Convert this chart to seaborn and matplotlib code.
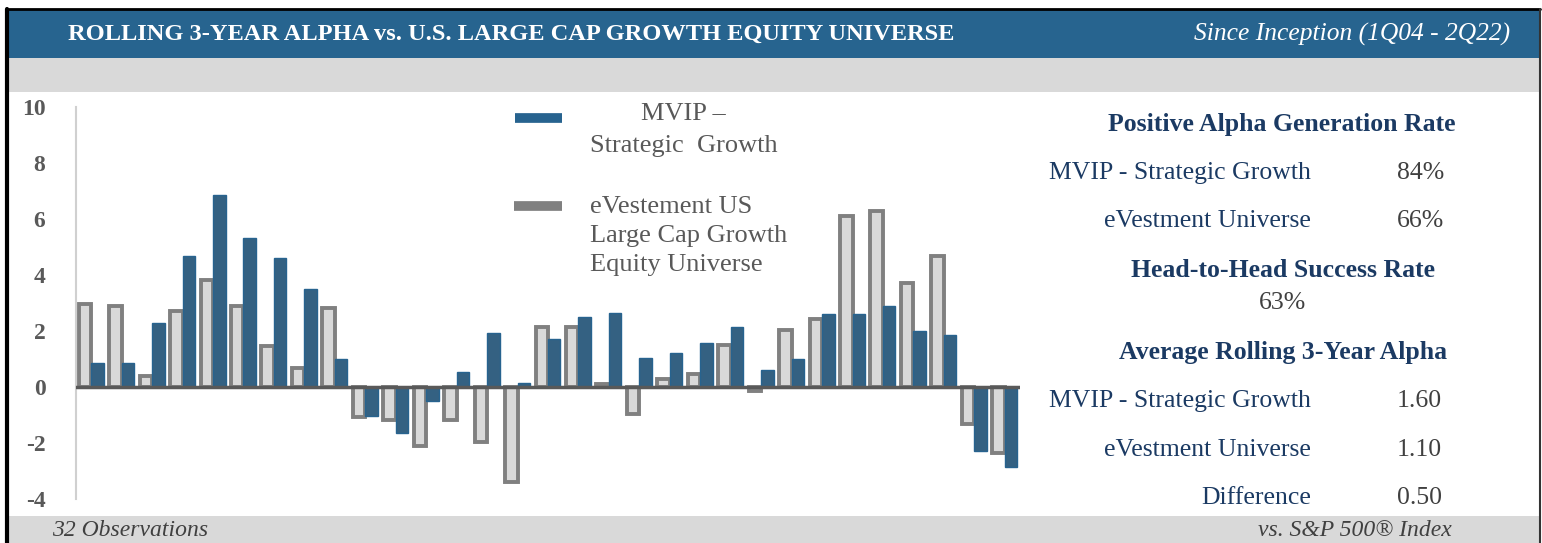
import numpy as np
import pandas as pd
import seaborn as sns
import matplotlib.pyplot as plt
from matplotlib.patches import Rectangle
from matplotlib.lines import Line2D

universe_alpha = [2.97, 2.88, 0.39, 2.73, 3.83, 2.91, 1.46, 0.69, 2.82, -1.08,
                  -1.19, -2.09, -1.19, -1.97, -3.39, 2.14, 2.14, 0.10, -0.96, 0.30,
                  0.45, 1.51, -0.15, 2.03, 2.43, 6.09, 6.30, 3.71, 4.69, -1.31, -2.37]
mvip_alpha = [0.84, 0.87, 2.29, 4.69, 6.86, 5.31, 4.60, 3.50, 1.01, -1.04,
              -1.66, -0.51, 0.55, 1.93, 0.13, 1.70, 2.49, 2.64, 1.03, 1.22,
              1.58, 2.15, 0.60, 0.99, 2.61, 2.59, 2.91, 1.99, 1.86, -2.30, -2.85]
series_names = ["eVestment Universe", "MVIP - Strategic Growth"]
y_ticks = [-4, -2, 0, 2, 4, 6, 8, 10]

stat_labels = ["MVIP - Strategic Growth", "eVestment Universe"]
positive_rate = ["84%", "66%"]
head_to_head = "63%"
avg_labels = ["MVIP - Strategic Growth", "eVestment Universe", "Difference"]
avg_values = ["1.60", "1.10", "0.50"]

BLUE = "#27638f"
GRAY_EDGE = "#808080"
GRAY_FILL = "#d9d9d9"
NAVY = "#1b3a63"
TXT = "#404040"
W, H = 1542, 543

n = len(mvip_alpha)
df = pd.DataFrame({
    "obs": list(range(n)) * 2,
    "alpha": universe_alpha + mvip_alpha,
    "series": [series_names[0]] * n + [series_names[1]] * n,
})

sns.set_style("white")
plt.rcParams["font.family"] = ["Liberation Serif", "DejaVu Serif"]

fig = plt.figure(figsize=(W / 100, H / 100), dpi=100)


def fx(px):
    return px / W


def fy(py):
    return 1 - py / H


# frame, header and bands
fig.add_artist(Rectangle((fx(7), fy(58)), fx(1533), 48 / H, transform=fig.transFigure,
                         facecolor="#27648f", edgecolor="none", zorder=1))
fig.add_artist(Rectangle((fx(7), fy(92)), fx(1533), 34 / H, transform=fig.transFigure,
                         facecolor=GRAY_FILL, edgecolor="none", zorder=1))
fig.add_artist(Rectangle((fx(7), fy(543)), fx(1533), 27 / H, transform=fig.transFigure,
                         facecolor=GRAY_FILL, edgecolor="none", zorder=1))
fig.add_artist(Line2D([fx(7), fx(7)], [fy(543), fy(9)], transform=fig.transFigure,
                      color="black", lw=3, zorder=2))
fig.add_artist(Line2D([fx(7), fx(1540)], [fy(9), fy(9)], transform=fig.transFigure,
                      color="black", lw=2, zorder=2))
fig.add_artist(Line2D([fx(1540), fx(1540)], [fy(543), fy(9)], transform=fig.transFigure,
                      color="#333333", lw=1.5, zorder=2))

fig.text(fx(68), fy(34), "ROLLING 3-YEAR ALPHA vs. U.S. LARGE CAP GROWTH EQUITY UNIVERSE",
         color="white", fontsize=17.6, fontweight="bold", va="center", ha="left", zorder=3)
fig.text(fx(1510), fy(34), "Since Inception (1Q04 - 2Q22)", color="white", fontsize=18.4,
         style="italic", va="center", ha="right", zorder=3)
fig.text(fx(52), fy(531), "32 Observations", color=TXT, fontsize=17, style="italic",
         va="center", ha="left", zorder=3)
fig.text(fx(1452), fy(531), "vs. S&P 500\u00ae Index", color=TXT, fontsize=17, style="italic",
         va="center", ha="right", zorder=3)

# bar chart
ax = fig.add_axes([fx(76), fy(499), fx(1020) - fx(76), fy(107) - fy(499)])
ax.set_facecolor("none")
sns.barplot(data=df, x="obs", y="alpha", hue="series", hue_order=series_names,
            palette=[GRAY_FILL, BLUE], width=0.82, legend=False, ax=ax, zorder=2)

for p in ax.containers[0]:
    p.set_edgecolor(GRAY_EDGE)
    p.set_linewidth(2.8)
for p in ax.containers[1]:
    p.set_edgecolor(BLUE)
    p.set_linewidth(1)

ax.axhline(0, color="#595959", lw=2.5, zorder=3)
ax.set_ylim(-4, 10)
ax.set_xlim(-0.5, n - 0.5)
ax.set_yticks(y_ticks)
ax.set_yticklabels([str(t) for t in y_ticks], fontsize=17, fontweight="bold", color="#595959")
ax.tick_params(axis="y", length=0, pad=22)
ax.set_xticks([])
ax.set_xlabel("")
ax.set_ylabel("")
for s in ["top", "right", "bottom"]:
    ax.spines[s].set_visible(False)
ax.spines["left"].set_color("#d0d0d0")
ax.spines["left"].set_linewidth(1.5)

# legend drawn by hand
LEG = 19
fig.add_artist(Line2D([fx(515), fx(562)], [fy(118), fy(118)], transform=fig.transFigure,
                      color=BLUE, lw=7, solid_capstyle="butt", zorder=4))
fig.text(fx(683), fy(114), "MVIP \u2013", color="#595959", fontsize=LEG, ha="center", va="center")
fig.text(fx(590), fy(146), "Strategic  Growth", color="#595959", fontsize=LEG, ha="left", va="center")
fig.add_artist(Line2D([fx(514), fx(562)], [fy(206), fy(206)], transform=fig.transFigure,
                      color=GRAY_EDGE, lw=7, solid_capstyle="butt", zorder=4))
fig.text(fx(590), fy(207), "eVestement US", color="#595959", fontsize=LEG, ha="left", va="center")
fig.text(fx(590), fy(236), "Large Cap Growth", color="#595959", fontsize=LEG, ha="left", va="center")
fig.text(fx(590), fy(265), "Equity Universe", color="#595959", fontsize=LEG, ha="left", va="center")

# statistics panel
PS = 18.5
fig.text(fx(1282), fy(124), "Positive Alpha Generation Rate", color=NAVY, fontsize=PS,
         fontweight="bold", ha="center", va="center")
for lab, val, yy in zip(stat_labels, positive_rate, [173, 221]):
    fig.text(fx(1311), fy(yy), lab, color=NAVY, fontsize=PS, ha="right", va="center")
    fig.text(fx(1397), fy(yy), val, color=TXT, fontsize=PS, ha="left", va="center")
fig.text(fx(1283), fy(271), "Head-to-Head Success Rate", color=NAVY, fontsize=PS,
         fontweight="bold", ha="center", va="center")
fig.text(fx(1283), fy(303), head_to_head, color=TXT, fontsize=PS, ha="center", va="center")
fig.text(fx(1283), fy(353), "Average Rolling 3-Year Alpha", color=NAVY, fontsize=PS,
         fontweight="bold", ha="center", va="center")
for lab, val, yy in zip(avg_labels, avg_values, [401, 450, 498]):
    fig.text(fx(1311), fy(yy), lab, color=NAVY, fontsize=PS, ha="right", va="center")
    fig.text(fx(1397), fy(yy), val, color=TXT, fontsize=PS, ha="left", va="center")

fig.savefig("out.png", dpi=100)
